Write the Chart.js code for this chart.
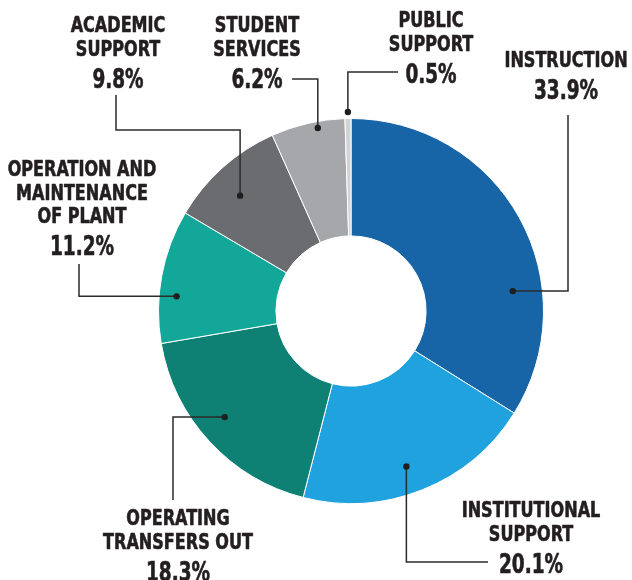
<!DOCTYPE html>
<html>
<head>
<meta charset="utf-8">
<script src="https://cdn.jsdelivr.net/npm/chart.js@4.4.1/dist/chart.umd.min.js"></script>
<style>
  html, body { margin: 0; padding: 0; background: #fff; }
  #wrap { width: 632px; height: 580px; position: relative; }
</style>
</head>
<body>
<div id="wrap"><canvas id="chart"></canvas></div>
<script>
// data
const categories = [
  ["INSTRUCTION"],
  ["INSTITUTIONAL", "SUPPORT"],
  ["OPERATING", "TRANSFERS OUT"],
  ["OPERATION AND", "MAINTENANCE", "OF PLANT"],
  ["ACADEMIC", "SUPPORT"],
  ["STUDENT", "SERVICES"],
  ["PUBLIC", "SUPPORT"]
];
const shares = [33.9, 20.1, 18.3, 11.2, 9.8, 6.2, 0.5];
const colors = ["#1764a7", "#1fa2dd", "#0e8174", "#13a799", "#6b6c70", "#a6a7aa", "#d2d3d5"];

// label placement: where the dot sits in its slice (t along arc, r radius),
// the elbow route from the dot, and the text anchor
const callouts = [
  { t: 0.68, r: 163, route: [["x", 568], ["y", 115]], x: 566, y: 67 },
  { t: 0.53, r: 165, route: [["y", 562], ["x", 488]], x: 531, y: 517 },
  { t: 0.54, r: 165, route: [["x", 173], ["y", 500]], x: 178, y: 525 },
  { t: 0.36, r: 175, route: [["x", 79], ["y", 264]], x: 82, y: 176 },
  { t: 0.44, r: 160, route: [["y", 130], ["x", 116], ["y", 95]], x: 118, y: 32 },
  { t: 0.62, r: 186, route: [["y", 79], ["x", 292]], x: 257, y: 32 },
  { t: 0.5, r: 199, route: [["y", 72], ["x", 398]], x: 431, y: 27 }
];

const FONT = '"Liberation Sans Narrow", "DejaVu Sans Condensed", sans-serif';

// condensed text: the installed fonts are wider than the original one
function narrowText(ctx, text, x, y, sx) {
  ctx.save();
  ctx.translate(x, y);
  ctx.scale(sx, 1);
  ctx.strokeText(text, 0, 0);
  ctx.fillText(text, 0, 0);
  ctx.restore();
}

const calloutPlugin = {
  id: "callouts",
  afterDraw(chart) {
    const ctx = chart.ctx;
    const meta = chart.getDatasetMeta(0);
    meta.data.forEach((arc, i) => {
      const c = callouts[i];
      const a = arc.startAngle + c.t * (arc.endAngle - arc.startAngle);
      const dx = arc.x + Math.cos(a) * c.r;
      const dy = arc.y + Math.sin(a) * c.r;
      let px = dx, py = dy;

      ctx.save();
      ctx.strokeStyle = "#2b2b2b";
      ctx.fillStyle = "#1e1e1e";
      ctx.lineWidth = 1.5;
      ctx.beginPath();
      ctx.moveTo(px, py);
      c.route.forEach(([axis, v]) => {
        if (axis === "x") px = v; else py = v;
        ctx.lineTo(px, py);
      });
      ctx.stroke();
      ctx.beginPath();
      ctx.arc(dx, dy, 3.2, 0, Math.PI * 2);
      ctx.fill();

      ctx.fillStyle = "#231f20";
      ctx.strokeStyle = "#231f20";
      ctx.lineWidth = 0.6;
      ctx.lineJoin = "round";
      ctx.textAlign = "center";
      ctx.textBaseline = "alphabetic";
      ctx.font = "bold 21px " + FONT;
      let y = c.y;
      categories[i].forEach(line => {
        narrowText(ctx, line, c.x, y, 0.85);
        y += 23.5;
      });
      ctx.font = "bold 26px " + FONT;
      narrowText(ctx, shares[i].toFixed(1) + "%", c.x, y - 23.5 + 32, 0.79);
      ctx.restore();
    });
  }
};

document.addEventListener("DOMContentLoaded", () => {
  const ctx = document.getElementById("chart").getContext("2d");
  new Chart(ctx, {
    type: "doughnut",
    data: {
      labels: categories.map(l => l.join(" ")),
      datasets: [{
        data: shares,
        backgroundColor: colors,
        borderColor: "#ffffff",
        borderWidth: 1
      }]
    },
    options: {
      responsive: true,
      maintainAspectRatio: false,
      animation: false,
      cutout: "39%",
      layout: { padding: { left: 158, right: 88, top: 118, bottom: 76 } },
      plugins: {
        legend: { display: false },
        tooltip: { enabled: false }
      }
    },
    plugins: [calloutPlugin]
  });
});
</script>
</body>
</html>
